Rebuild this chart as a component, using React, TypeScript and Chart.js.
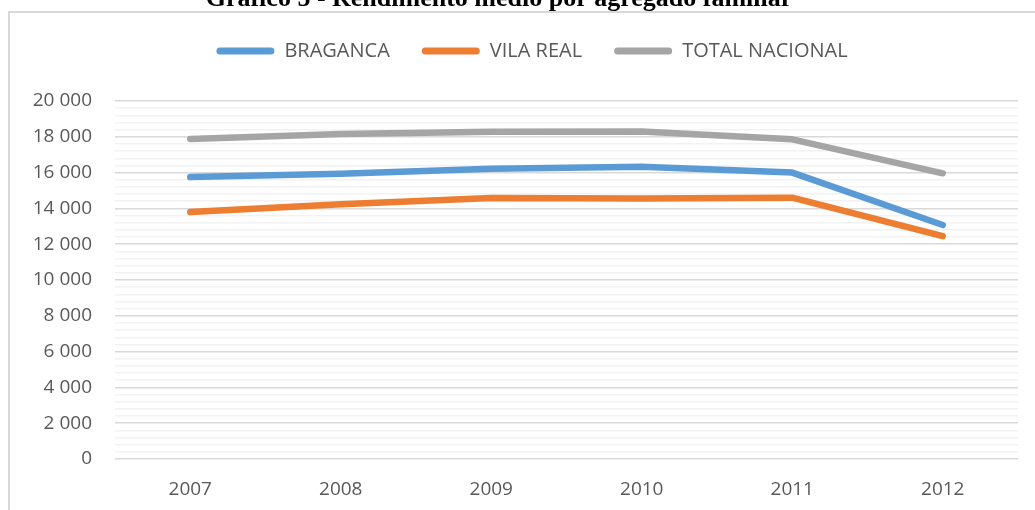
import React, { useEffect, useRef } from "react";
import { Chart, registerables } from "chart.js";

Chart.register(...registerables);

const chartTitle = "Gráfico 5 - Rendimento médio por agregado familiar";
const years = ["2007", "2008", "2009", "2010", "2011", "2012"];
const braganca = [15750, 15930, 16220, 16320, 16000, 13070];
const vilaReal = [13800, 14230, 14580, 14560, 14600, 12450];
const totalNacional = [17880, 18160, 18280, 18290, 17860, 15960];
const yMin = 0;
const yMax = 20000;
const yMajorStep = 2000;
const yMinorStep = 400;

const fmt = (v: number) => String(v).replace(/\B(?=(\d{3})+(?!\d))/g, " ");

const framePlugin = {
  id: "frame",
  afterInit(chart: any) {
    const lg = chart.legend;
    if (lg && !lg.__patched) {
      const orig = lg.fit.bind(lg);
      lg.fit = function () {
        orig();
        this.height = 92;
      };
      const origDraw = lg.draw.bind(lg);
      lg.draw = function (a: any) {
        const c = this.ctx;
        c.save();
        c.translate(18, 0);
        origDraw(a);
        c.restore();
      };
      lg.__patched = true;
    }
  },
  beforeDraw(chart: any) {
    const ctx = chart.ctx;
    ctx.save();
    ctx.fillStyle = "#ffffff";
    ctx.fillRect(0, 0, chart.width, chart.height);
    ctx.strokeStyle = "#d9d9d9";
    ctx.lineWidth = 2;
    ctx.strokeRect(9, 12, chart.width + 20, chart.height + 20);
    ctx.fillStyle = "#000000";
    ctx.font = "bold 26px 'Liberation Serif', 'Times New Roman', serif";
    ctx.textAlign = "center";
    ctx.textBaseline = "alphabetic";
    ctx.fillText(chartTitle, 499, 6);
    ctx.restore();
  },
};

export default function App() {
  const ref = useRef<HTMLCanvasElement | null>(null);
  useEffect(() => {
    if (!ref.current) return;
    const font = "'Open Sans', 'Liberation Sans', sans-serif";
    const mk = (label: string, data: number[], color: string) => ({
      label,
      data,
      borderColor: color,
      backgroundColor: color,
      borderWidth: 6.5,
      borderCapStyle: "round" as const,
      borderJoinStyle: "round" as const,
      pointRadius: 0,
      tension: 0,
    });
    const chart = new Chart(ref.current, {
      type: "line",
      data: {
        labels: years,
        datasets: [
          mk("BRAGANCA", braganca, "#5b9bd5"),
          mk("VILA REAL", vilaReal, "#ed7d31"),
          mk("TOTAL NACIONAL", totalNacional, "#a5a5a5"),
        ],
      },
      plugins: [framePlugin],
      options: {
        animation: false,
        responsive: false,
        maintainAspectRatio: false,
        layout: { padding: { left: 10, right: 17, top: 9, bottom: 0 } },
        plugins: {
          title: { display: false },
          tooltip: { enabled: false },
          legend: {
            display: true,
            position: "top",
            labels: {
              color: "#595959",
              font: { family: font, size: 20 },
              boxWidth: 58,
              boxHeight: 7,
              useBorderRadius: true,
              borderRadius: 3.5,
              padding: 32,
              generateLabels: (c: any) =>
                c.data.datasets.map((d: any, i: number) => ({
                  text: d.label,
                  fillStyle: d.borderColor,
                  strokeStyle: d.borderColor,
                  lineWidth: 0,
                  borderRadius: 3.5,
                  fontColor: "#595959",
                  datasetIndex: i,
                  hidden: false,
                })),
            },
          },
        },
        scales: {
          x: {
            offset: true,
            grid: { display: false, drawTicks: false },
            border: { display: false },
            ticks: {
              color: "#595959",
              font: { family: font, size: 19 },
              padding: 19,
            },
            afterFit: (s: any) => {
              s.height = 51;
            },
          },
          y: {
            min: yMin,
            max: yMax,
            border: { display: false },
            grid: {
              drawTicks: false,
              lineWidth: 1.5,
              color: (c: any) =>
                c.tick && c.tick.value % yMajorStep === 0 ? "#d9d9d9" : "#f2f2f2",
            },
            ticks: {
              stepSize: yMinorStep,
              autoSkip: false,
              color: "#595959",
              font: { family: font, size: 19 },
              padding: 23,
              callback: (v: any) => (Number(v) % yMajorStep === 0 ? fmt(Number(v)) : ""),
            },
            afterFit: (s: any) => {
              s.width = 105;
            },
          },
        },
      },
    });
    return () => chart.destroy();
  }, []);
  return (
    <div style={{ position: "fixed", left: 0, top: 0, width: 1035, height: 510, background: "#fff" }}>
      <canvas ref={ref} width={1035} height={510} style={{ width: 1035, height: 510, display: "block" }} />
    </div>
  );
}
